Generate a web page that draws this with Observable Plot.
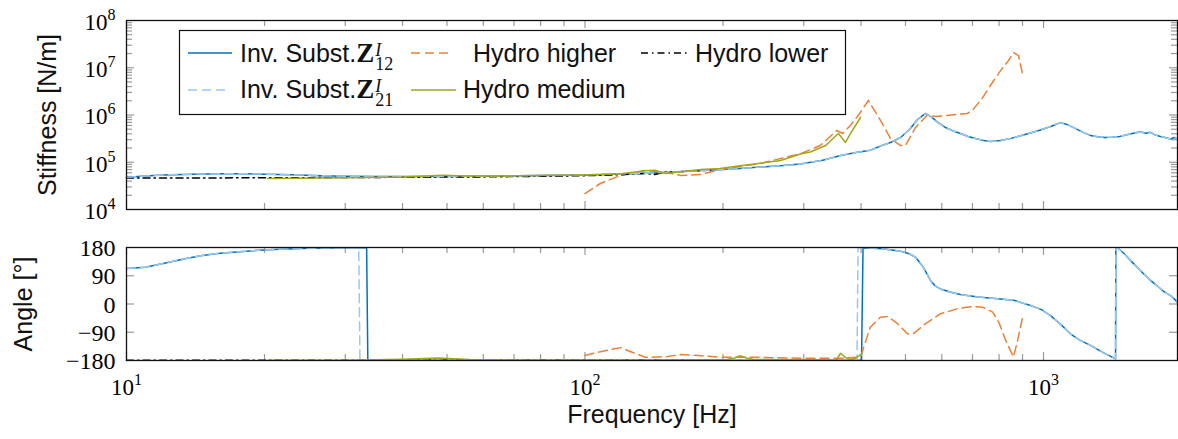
<!DOCTYPE html>
<html><head><meta charset="utf-8">
<script src="https://cdn.jsdelivr.net/npm/d3@7"></script>
<script src="https://cdn.jsdelivr.net/npm/@observablehq/plot@0.6"></script>
<style>
body{margin:0;background:#fff;}
#wrap{position:relative;width:1178px;height:439px;overflow:hidden;background:#fff;}
#wrap svg{display:block;overflow:visible;}
#legend{position:absolute;left:0;top:0;pointer-events:none;}
</style></head><body><div id="wrap"></div>
<script>
// ---------- data ----------
const stiffTicks = [1e4, 1e5, 1e6, 1e7, 1e8];
const angleTicks = [-180, -90, 0, 90, 180];
const freqTicks = [10, 100, 1000];

const z12Freq = [10, 11, 12, 14, 16, 18, 20, 23, 26.5, 30, 35, 40, 48, 60, 72, 88, 100, 115, 132, 150, 179, 210, 241, 270, 295, 330, 361, 390, 419, 441, 464, 488, 512, 531, 553, 570, 590, 611, 635, 659, 685, 711, 740, 766, 806, 850, 891, 940, 985, 1040, 1089, 1130, 1172, 1220, 1266, 1310, 1360, 1410, 1466, 1520, 1570, 1627, 1670, 1712, 1750, 1800, 1850, 1892, 1930, 1960];
const z12Stiff = [48000, 51000, 54000, 56000, 57000, 57000, 56000, 54500, 52000, 50500, 50000, 49800, 50000, 50500, 51500, 53000, 54000, 56000, 58000, 61000, 66500, 72000, 79000, 85000, 92000, 110000, 139000, 160000, 180000, 220000, 262000, 334000, 510000, 800000, 1080000, 900000, 680000, 544000, 460000, 406000, 350000, 318000, 290000, 276000, 288000, 320000, 365000, 420000, 480000, 580000, 690000, 620000, 520000, 430000, 370000, 345000, 335000, 340000, 350000, 380000, 410000, 440000, 410000, 430000, 380000, 350000, 330000, 310000, 335000, 300000];

const z12AngFreq = [10, 11, 12.3, 13.5, 14.5, 16, 18.9, 21, 24, 27, 30, 33.4, 33.6, 40, 60, 100, 150, 200, 300, 401, 404, 446, 488, 510, 526, 547, 567, 580, 596, 625, 659, 720, 806, 866, 937, 990, 1036, 1090, 1145, 1200, 1266, 1350, 1436, 1438, 1458, 1500, 1548, 1630, 1712, 1770, 1828, 1900, 1960];
const z12Angle = [113, 117, 132, 145, 154, 162, 170, 174, 177, 178.5, 179, 179.5, -179.5, -179.5, -179.5, -179.5, -179.5, -179.5, -179.5, -179, 179, 176, 168, 160, 149, 117, 75, 58, 48, 38, 30, 22, 16, 11, -5, -18, -37, -65, -95, -115, -132, -155, -175, 179, 177, 160, 139, 105, 75, 58, 40, 25, 6];

const z21AngFreq = [10, 11, 12.3, 13.5, 14.5, 16, 18.9, 21, 24, 27, 30, 32.1, 32.3, 40, 60, 100, 150, 200, 300, 392, 394, 404, 446, 488, 510, 526, 547, 567, 580, 596, 625, 659, 720, 806, 866, 937, 990, 1036, 1090, 1145, 1200, 1266, 1350, 1436, 1438, 1458, 1500, 1548, 1630, 1712, 1770, 1828, 1900, 1960];
const z21Angle = [113, 117, 132, 145, 154, 162, 170, 174, 177, 178.5, 179, 179.5, -179.5, -179.5, -179.5, -179.5, -179.5, -179.5, -179.5, -179, 179.5, 179, 176, 168, 160, 149, 117, 75, 58, 48, 38, 30, 22, 16, 11, -5, -18, -37, -65, -95, -115, -132, -155, -175, 179, 177, 160, 139, 105, 75, 58, 40, 25, 6];

const higherFreq = [100, 108, 119.5, 135.5, 150, 162, 179, 197, 241, 295, 326, 354, 365, 379, 395, 415, 441, 464, 488, 500, 526, 558, 581, 682, 700, 736, 778, 806, 838, 860, 882, 899];
const higherStiff = [21800, 35500, 52400, 66900, 60700, 52400, 55000, 70000, 94000, 152000, 226000, 470000, 406000, 600000, 1000000, 2030000, 770000, 318000, 226000, 226000, 544000, 1000000, 929000, 1080000, 1250000, 2300000, 5300000, 8700000, 14000000, 21000000, 18000000, 7900000];
const higherAngFreq = [100, 108, 119.5, 135.5, 150, 162, 180, 197, 241, 295, 361, 399, 419, 441, 458, 480, 505, 520, 550, 596, 650, 703, 736, 775, 800, 827, 860, 878, 899];
const higherAngle = [-164, -152, -139, -170, -168, -161, -165, -170, -170, -173, -173, -169, -74, -42, -40, -62, -95, -95, -65, -31, -15, -8, -10, -26, -60, -116, -169, -116, -47];

const lowerFreq = [10, 15, 20, 30, 40, 60, 80, 100, 120, 135, 142, 150, 165, 180, 197];
const lowerStiff = [46500, 46500, 47000, 47500, 48000, 49000, 50500, 52000, 54500, 58000, 55000, 62000, 64000, 67000, 70000];
const lowerAngle = [-179.5, -179.5, -179.5, -179.5, -179.5, -179.5, -179.5, -179.5, -179.5, -179.5, -179.5, -179.5, -179.5, -179.5, -179.5];

const mediumFreq = [20.3, 24, 30, 40, 49, 55, 70, 88, 100, 120, 135, 142, 150, 162, 179, 197, 218, 241, 267, 295, 310, 335, 357, 370, 379, 389, 399];
const mediumStiff = [45300, 46000, 47000, 49000, 53000, 51000, 51500, 53000, 54000, 57000, 66000, 68000, 58000, 63000, 70000, 74000, 84000, 95000, 109000, 150000, 165000, 226000, 406000, 262000, 400000, 600000, 885000];
const mediumAngFreq = [20.3, 30, 40, 48, 56, 70, 100, 150, 204, 212, 218, 225, 233, 300, 353, 361, 370, 379, 390, 399];
const mediumAngle = [-179.5, -179.5, -176, -172, -177, -179.5, -179.5, -179, -177, -172, -165, -172, -177, -178, -179, -157, -171, -177, -172, -161];

const seriesNames = ["Inv. Subst.Z12", "Hydro higher", "Hydro lower", "Inv. Subst.Z21", "Hydro medium"];
const seriesColors = ["#0072BD", "#EE7F35", "#000000", "#9DC6EA", "#A2A617"];
const seriesDash = [null, "9,5", "7,4,1.5,4", "9,5", null];

// ---------- helpers ----------
const zipXY = (xs, ys) => xs.map((x, i) => ({x, y: ys[i]}));
const W = 1178, ML = 126, MR = 1;
const xDomain = [10, 1960];
const sans = "'Liberation Sans', Arial, Helvetica, sans-serif";
const serif = "'Liberation Serif', 'DejaVu Serif', serif";
const grey = "#9a9a9a";
const PW = W - ML - MR;
const xMinor = [];
for (const d of [10, 100, 1000]) for (let k = 2; k <= 9; k++) if (d * k < 1960) xMinor.push(d * k);
const yMinor = [];
for (const d of [1e4, 1e5, 1e6, 1e7]) for (let k = 2; k <= 9; k++) yMinor.push(d * k);

function tickMarks(ph, yMaj, yMin) {
  const M = 8, m = 6;
  const marks = [
    Plot.ruleX(freqTicks, {x: d => d, insetTop: ph - M, stroke: grey, strokeWidth: 1.2}),
    Plot.ruleX(freqTicks, {x: d => d, insetBottom: ph - M, stroke: grey, strokeWidth: 1.2}),
    Plot.ruleX(xMinor, {x: d => d, insetTop: ph - m, stroke: grey, strokeWidth: 1.2}),
    Plot.ruleX(xMinor, {x: d => d, insetBottom: ph - m, stroke: grey, strokeWidth: 1.2}),
    Plot.ruleY(yMaj, {y: d => d, insetRight: PW - M, stroke: grey, strokeWidth: 1.2}),
    Plot.ruleY(yMaj, {y: d => d, insetLeft: PW - M, stroke: grey, strokeWidth: 1.2})
  ];
  if (yMin) {
    marks.push(Plot.ruleY(yMin, {y: d => d, insetRight: PW - m, stroke: grey, strokeWidth: 1.2}));
    marks.push(Plot.ruleY(yMin, {y: d => d, insetLeft: PW - m, stroke: grey, strokeWidth: 1.2}));
  }
  return marks;
}
const lineOpts = i => ({x: "x", y: "y", stroke: seriesColors[i], strokeWidth: 1.5, strokeDasharray: seriesDash[i]});

// ---------- top panel: stiffness ----------
const topH = 220, topMT = 20, topMB = 11;
const stiffChart = Plot.plot({
  width: W, height: topH, marginTop: topMT, marginBottom: topMB, marginLeft: ML, marginRight: MR,
  style: {fontFamily: serif, background: "none", overflow: "visible"},
  x: {type: "log", domain: xDomain, axis: null},
  y: {type: "log", domain: [1e4, 1e8]},
  marks: [
    ...tickMarks(topH - topMT - topMB, stiffTicks.slice(1, -1), yMinor),
    Plot.line(zipXY(z12Freq, z12Stiff), lineOpts(0)),
    Plot.line(zipXY(higherFreq, higherStiff), lineOpts(1)),
    Plot.line(zipXY(lowerFreq, lowerStiff), lineOpts(2)),
    Plot.line(zipXY(z12Freq, z12Stiff), lineOpts(3)),
    Plot.line(zipXY(mediumFreq, mediumStiff), lineOpts(4)),
    Plot.frame({stroke: "#111", strokeWidth: 1.3}),
    Plot.axisY({ticks: stiffTicks, tickSize: 0, tickPadding: 11, label: null, fontSize: 23, dy: 2,
      tickFormat: d => "10^" + Math.round(Math.log10(d))}),
    Plot.text(["Stiffness [N/m]"], {text: d => d, frameAnchor: "left", textAnchor: "middle", lineAnchor: "middle",
      dx: -79, rotate: -90, fontSize: 25, fontFamily: sans, fill: "#111"})
  ]
});

// ---------- bottom panel: angle ----------
const botH = 219, botMT = 27, botMB = 79;
const angleChart = Plot.plot({
  width: W, height: botH, marginTop: botMT, marginBottom: botMB, marginLeft: ML, marginRight: MR,
  style: {fontFamily: serif, background: "none", overflow: "visible"},
  x: {type: "log", domain: xDomain},
  y: {domain: [-180, 180]},
  marks: [
    ...tickMarks(botH - botMT - botMB, [-90, 0, 90], null),
    Plot.line(zipXY(z12AngFreq, z12Angle), lineOpts(0)),
    Plot.line(zipXY(higherAngFreq, higherAngle), lineOpts(1)),
    Plot.line(zipXY(lowerFreq, lowerAngle), lineOpts(2)),
    Plot.line(zipXY(z21AngFreq, z21Angle), lineOpts(3)),
    Plot.line(zipXY(mediumAngFreq, mediumAngle), lineOpts(4)),
    Plot.frame({stroke: "#111", strokeWidth: 1.3}),
    Plot.axisY({ticks: angleTicks, tickSize: 0, tickPadding: 11, label: null, fontSize: 24, dy: 1,
      tickFormat: d => d < 0 ? "\u2212" + Math.abs(d) : String(d)}),
    Plot.axisX({ticks: freqTicks, tickSize: 0, tickPadding: 27, label: null, fontSize: 23, lineAnchor: "middle", dy: 0,
      tickFormat: d => "10^" + Math.round(Math.log10(d))}),
    Plot.text(["Angle [\u00b0]"], {text: d => d, frameAnchor: "left", textAnchor: "middle", lineAnchor: "middle",
      dx: -103, rotate: -90, fontSize: 25, fontFamily: sans, fill: "#111"}),
    Plot.text(["Frequency [Hz]"], {text: d => d, frameAnchor: "bottom", textAnchor: "middle", lineAnchor: "middle",
      dy: 54, fontSize: 25, fontFamily: sans, fill: "#111"})
  ]
});

const NS = "http://www.w3.org/2000/svg";
function supers(svg) {
  svg.querySelectorAll("text").forEach(t => {
    if (t.children.length === 0 && t.textContent.includes("^")) {
      const [b, e] = t.textContent.split("^");
      t.textContent = "";
      const t1 = document.createElementNS(NS, "tspan"); t1.textContent = b;
      const t2 = document.createElementNS(NS, "tspan"); t2.textContent = e;
      t2.setAttribute("dy", "-0.62em"); t2.setAttribute("font-size", "16");
      t.append(t1, t2);
    }
  });
}
supers(stiffChart); supers(angleChart);

const wrap = document.getElementById("wrap");
wrap.append(stiffChart, angleChart);

// ---------- legend (overlay inside the top panel) ----------
const lg = d3.select(wrap).append("svg").attr("id", "legend").attr("width", W).attr("height", topH);
lg.append("rect").attr("x", 179.5).attr("y", 30.5).attr("width", 666).attr("height", 84)
  .attr("fill", "white").attr("stroke", "#111").attr("stroke-width", 1.2);
const slots = [
  {x1: 188, x2: 232, y: 53, tx: 240, ty: 62},
  {x1: 411, x2: 452, y: 53, tx: 473, ty: 62},
  {x1: 641, x2: 687, y: 53, tx: 695, ty: 62},
  {x1: 188, x2: 230, y: 90, tx: 240, ty: 98},
  {x1: 411, x2: 456, y: 90, tx: 463, ty: 98}
];
slots.forEach((s, i) => {
  lg.append("line").attr("x1", s.x1).attr("x2", s.x2).attr("y1", s.y).attr("y2", s.y)
    .attr("stroke", seriesColors[i]).attr("stroke-width", 1.5)
    .attr("stroke-dasharray", seriesDash[i]);
  const t = lg.append("text").attr("x", s.tx).attr("y", s.ty)
    .attr("font-family", sans).attr("font-size", 25).attr("fill", "#111");
  const name = seriesNames[i];
  const m = name.match(/^(Inv\. Subst\.)Z(\d\d)$/);
  if (m) {
    t.append("tspan").text(m[1]);
    t.append("tspan").attr("font-family", serif).attr("font-weight", "bold").attr("font-size", 27).text("Z");
    t.append("tspan").attr("font-family", serif).attr("font-style", "italic").attr("font-size", 18).attr("dy", -6).attr("dx", 1).text("I");
    t.append("tspan").attr("font-family", serif).attr("font-size", 18).attr("dx", -6).attr("dy", 14).text(m[2]);
  } else {
    t.text(name);
  }
});
</script></body></html>
